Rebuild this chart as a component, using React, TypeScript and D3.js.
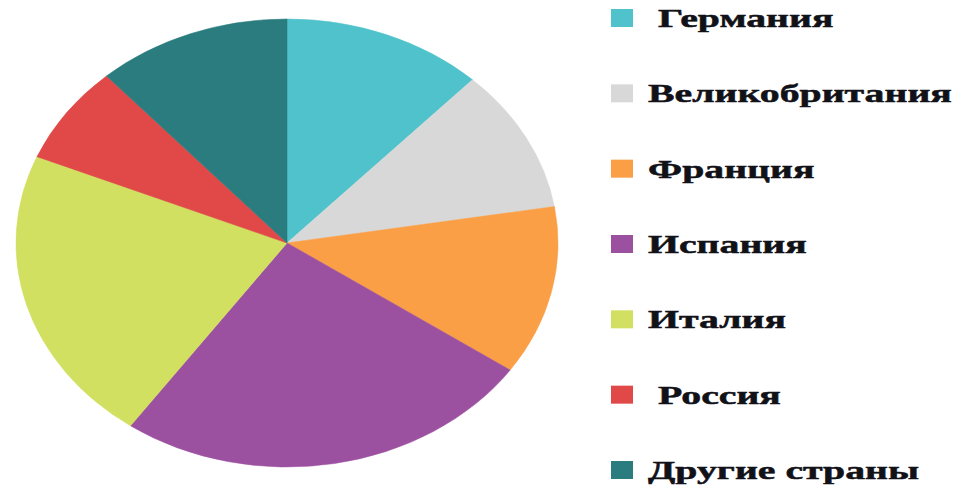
import React from "react";
import * as d3 from "d3";

const countries = [" Германия", "Великобритания", "Франция", "Испания", "Италия", " Россия", "Другие страны"];
const shares = [12.0, 10.4, 12.2, 25.2, 21.5, 7.1, 11.6];
const colors = ["#4FC2CB", "#D8D8D8", "#FA9F46", "#9C50A0", "#D1E061", "#E14848", "#2A7C7E"];

const W = 961;
const H = 493;

export default function App() {
  const cx = 287;
  const cy = 243;
  const rx = 271;
  const ry = 224;
  const data = countries.map((c, i) => ({ name: c, value: shares[i], color: colors[i] }));
  const pie = d3.pie<any>().sort(null).value((d: any) => d.value);
  const arcs = pie(data);
  const arc = d3.arc<any>().innerRadius(0).outerRadius(ry);
  const yScale = d3.scalePoint<string>().domain(countries).range([18, 470]);

  return (
    <svg width={W} height={H} style={{ position: "absolute", left: 0, top: 0, background: "#fff" }}>
      <g transform={`translate(${cx},${cy}) scale(${rx / ry},1)`}>
        {arcs.map((a, i) => (
          <path key={i} d={arc(a) as string} fill={a.data.color} stroke={a.data.color} strokeWidth={0.5} />
        ))}
      </g>
      <g>
        {data.map((d, i) => {
          const y = yScale(d.name) as number;
          return (
            <g key={i}>
              <rect x={611} y={y - 9} width={22} height={18} fill={d.color} />
              <text
                x={0}
                y={0}
                transform={`translate(648,${y + 9}) scale(1.53,1)`}
                fontFamily="'Liberation Serif', 'Times New Roman', serif"
                fontWeight="bold"
                fontSize={26}
                fill="#111118"
                stroke="#111118"
                strokeWidth={0.5}
                style={{ whiteSpace: "pre" }}
              >
                {d.name}
              </text>
            </g>
          );
        })}
      </g>
    </svg>
  );
}
